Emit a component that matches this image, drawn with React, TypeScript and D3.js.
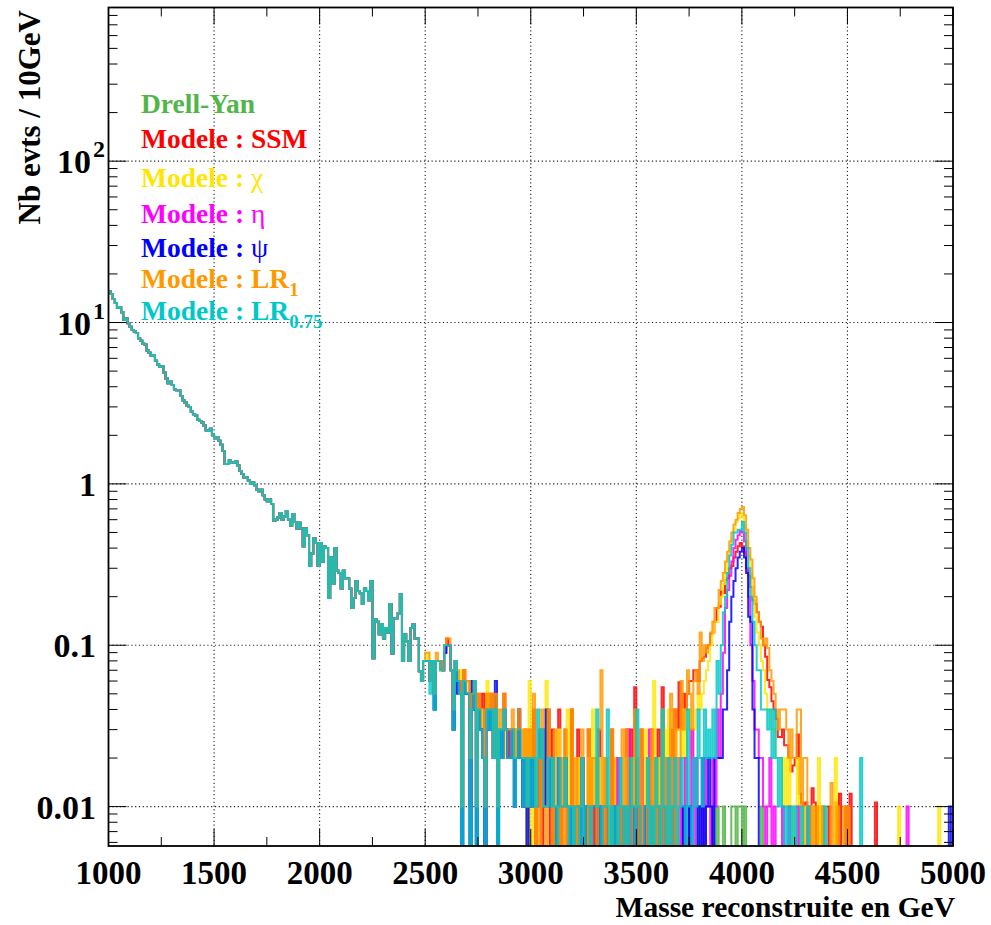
import React from 'react';
import * as d3 from 'd3';

const W = 991;
const H = 925;
const FRAME = { left: 108.5, right: 953, top: 7.5, bottom: 846 };
const X_MIN = 1000;
const X_MAX = 5000;
const BIN = 10;
const Y_MIN = 0.0057;
const Y_MAX = 896;

// Common Drell-Yan dominated part, 1000 -> 2490 GeV (events / 10 GeV)
const lowMass = [
  15.6, 15.0, 14.0, 13.2, 12.3, 12.5, 11.6, 10.4, 10.6, 9.9,
  9.4, 9.0, 8.8, 8.6, 8.0, 7.7, 7.4, 7.3, 6.7, 6.5,
  6.2, 6.3, 5.8, 5.5, 5.3, 5.35, 4.9, 4.5, 4.2, 4.3,
  4.1, 3.85, 3.8, 3.8, 3.5, 3.3, 3.2, 3.05, 3.0, 2.8,
  2.7, 2.65, 2.5, 2.45, 2.4, 2.3, 2.15, 2.13, 2.2, 2.0,
  1.92, 1.95, 1.85, 1.75, 1.6, 1.33, 1.33, 1.4, 1.36, 1.35,
  1.38, 1.3, 1.2, 1.15, 1.09, 1.1, 1.05, 1.0, 1.02, 0.98,
  0.92, 0.9, 0.92, 0.85, 0.8, 0.78, 0.8, 0.75, 0.59, 0.6,
  0.62, 0.66, 0.6, 0.63, 0.68, 0.6, 0.55, 0.65, 0.58, 0.53,
  0.575, 0.53, 0.41, 0.53, 0.48, 0.31, 0.37, 0.46, 0.43, 0.31,
  0.43, 0.33, 0.41, 0.40, 0.196, 0.35, 0.24, 0.40, 0.29, 0.28,
  0.225, 0.29, 0.26, 0.26, 0.225, 0.17, 0.196, 0.25, 0.217, 0.21,
  0.18, 0.225, 0.217, 0.19, 0.25, 0.083, 0.145, 0.14, 0.117, 0.135,
  0.11, 0.128, 0.12, 0.18, 0.089, 0.147, 0.147, 0.158, 0.207, 0.08,
  0.117, 0.106, 0.08, 0.128, 0.135, 0.11, 0.11, 0.069, 0.06, 0.08,
];

// Tails 2500 -> 4990 GeV, in units of 0.01 events / 10 GeV
const dyTail = [
  8, 8, 6, 8, 4, 8, 8, 7, 7, 9,
  10, 10, 7, 3, 8, 6, 6, 0, 6, 5,
  5, 0, 4, 6, 0, 4, 3, 3, 0, 4,
  3, 4, 2, 4, 0, 3, 2, 4, 3, 2,
  2, 3, 1, 2, 3, 2, 1, 2, 0, 2,
  1, 2, 1, 1, 2, 3, 1, 1, 2, 1,
  2, 1, 0, 2, 1, 1, 2, 1, 0, 1,
  0, 1, 1, 0, 2, 0, 1, 1, 0, 1,
  1, 0, 1, 0, 1, 1, 0, 0, 1, 0,
  1, 0, 0, 1, 0, 1, 0, 0, 1, 0,
  0, 1, 0, 0, 1, 0, 0, 1, 0, 0,
  1, 0, 0, 1, 0, 0, 0, 1, 0, 0,
  0, 0, 1, 0, 0, 1, 0, 0, 0, 1,
  0, 0, 1, 0, 0, 0, 1, 0, 1, 0,
  0, 1, 0, 0, 0, 1, 1, 0, 1, 1,
  0, 1, 0, 0, 0, 0, 0, 0, 0, 1,
  0, 0, 0, 0, 0, 0, 0, 0, 0, 0,
  0, 0, 0, 0, 0, 0, 0, 0, 0, 0,
  0, 0, 0, 0, 0, 0, 0, 0, 0, 0,
  0, 0, 0, 0, 0, 0, 0, 0, 0, 0,
  0, 0, 0, 0, 0, 0, 0, 0, 0, 0,
  0, 0, 0, 0, 0, 0, 0, 0, 0, 0,
  0, 0, 0, 0, 0, 0, 0, 0, 0, 0,
  0, 0, 0, 0, 0, 0, 0, 0, 0, 0,
  0, 0, 0, 0, 0, 0, 0, 0, 0, 0,
];

const ssmTail = [
  8, 8, 6, 8, 5, 8, 8, 8, 7, 10,
  11, 10, 7, 4, 8, 6, 6, 1, 7, 6,
  6, 2, 5, 6, 1, 5, 3, 5, 0, 5,
  3, 5, 2, 5, 1, 3, 2, 5, 3, 2,
  3, 3, 2, 3, 4, 2, 1, 3, 1, 3,
  2, 4, 0, 1, 3, 0, 2, 1, 4, 0,
  3, 0, 1, 4, 0, 1, 3, 0, 0, 4,
  1, 0, 3, 0, 2, 0, 0, 3, 0, 2,
  0, 1, 3, 0, 0, 2, 1, 0, 3, 0,
  2, 0, 1, 0, 0, 3, 0, 3, 1, 5.5,
  0, 1, 3, 0, 0, 2, 0, 3, 0, 2,
  3, 0, 5.5, 0, 2, 0, 3, 0, 4, 3,
  5.9, 3, 5, 4, 5, 6, 6, 7, 7, 6,
  8, 8.3, 8.5, 9.6, 10, 11.8, 12, 14, 17, 17.3,
  21.5, 21, 25.4, 26, 30, 31, 35, 38, 41, 43,
  41, 38, 30, 27, 23, 19, 18, 16, 14, 13,
  10, 8.5, 6.1, 5.5, 4.5, 4, 3.5, 2.7, 2.7, 3,
  2.4, 2.4, 2, 1.65, 1.8, 2, 2.8, 1.2, 1.06, 0,
  1.06, 1, 0, 1.3, 1.06, 0, 1, 0, 1, 0,
  0, 1, 0, 0, 1.06, 0, 1.2, 0, 0, 1,
  0, 1.2, 0, 0, 0, 0, 0, 0, 0, 0,
  0, 0, 0, 1.06, 0, 0, 0, 0, 0, 0,
  0, 0, 0, 0, 0, 0, 0, 0, 0, 0,
  0, 0, 0, 0, 0, 0, 0, 0, 0, 0,
  0, 0, 0, 0, 0, 0, 0, 0, 0, 0,
];

const chiTail = [
  8, 9, 7, 8, 5, 8, 8, 8, 7, 10,
  10, 10, 7, 3, 8, 6, 7, 0, 6, 6,
  5, 1, 6, 5, 0, 4, 4, 3, 1, 6,
  3, 4, 2, 5, 0, 3, 3, 4, 2, 2,
  2, 3, 1, 3, 3, 2, 1, 3, 0, 6,
  0, 2, 1, 2, 2, 3, 1, 6, 2, 1,
  2, 1, 0, 3, 1, 1, 2, 4, 0, 1,
  1, 1, 2, 0, 2, 0, 1, 2, 1, 4,
  1, 0, 2, 1, 1, 2, 0, 1, 1, 0,
  2, 0, 1, 1, 0, 2, 1, 0, 2, 1,
  1, 2, 0, 1, 3, 0, 2, 1, 6, 0,
  2, 0, 1, 3, 1, 4, 0, 2, 1, 3,
  3, 2, 4, 1, 3, 4, 2, 3, 4, 5,
  4, 5, 6, 7, 8, 10, 12, 14, 14, 18,
  20, 24, 28, 34, 39, 45, 52, 58, 61, 66,
  62, 55, 44, 36, 28, 20, 15, 12, 10, 8,
  7, 5, 4, 4, 3, 3, 2, 2, 2, 1,
  2, 1, 2, 1, 0, 1, 2, 0, 1, 0,
  1, 0, 0, 1, 0, 0, 2, 0, 1, 0,
  0, 0, 0, 0, 2, 0, 0, 0, 0, 0,
  0, 0, 0, 0, 0, 0, 0, 0, 0, 0,
  0, 0, 0, 0, 0, 0, 0, 0, 0, 0,
  0, 0, 0, 0, 1, 0, 0, 0, 0, 0,
  0, 0, 0, 0, 0, 0, 0, 0, 0, 0,
  0, 0, 0, 1, 0, 0, 0, 0, 0, 0,
];

const etaTail = [
  8, 8, 6, 8, 5, 8, 8, 8, 7, 9,
  10, 10, 7, 3, 8, 6, 6, 0, 6, 5,
  5, 1, 4, 6, 0, 4, 3, 3, 0, 4,
  3, 4, 2, 4, 1, 3, 2, 4, 3, 2,
  2, 3, 1, 2, 3, 2, 1, 2, 1, 2,
  1, 2, 1, 1, 2, 3, 1, 1, 2, 1,
  2, 1, 0, 2, 1, 1, 2, 1, 0, 1,
  0, 1, 1, 0, 2, 0, 1, 1, 0, 1,
  1, 0, 1, 0, 1, 1, 0, 0, 1, 0,
  1, 2, 0, 1, 0, 1, 3, 0, 1, 0,
  0, 1, 2, 0, 1, 0, 3, 1, 0, 1,
  1, 0, 0, 1, 2, 0, 1, 2, 0, 0,
  2, 0, 1, 2, 0, 1, 3, 0, 2, 1,
  1, 0, 2, 1, 1, 0, 2, 1, 4, 2,
  5, 9, 17, 22, 27, 33, 40, 45, 48, 51,
  50, 44, 30, 20, 10, 6, 3, 3, 2, 2,
  1, 0, 1, 2, 0, 1, 0, 0, 0, 1,
  0, 0, 1, 0, 0, 0, 1, 0, 0, 0,
  0, 1, 0, 0, 0, 0, 0, 0, 0, 0,
  0, 0, 0, 0, 0, 0, 0, 0, 0, 0,
  0, 0, 0, 0, 0, 0, 0, 0, 0, 0,
  0, 0, 0, 0, 0, 0, 0, 0, 0, 0,
  0, 0, 0, 0, 0, 0, 0, 0, 1, 0,
  0, 0, 0, 0, 0, 0, 0, 0, 0, 0,
  0, 0, 0, 0, 0, 0, 0, 0, 0, 0,
];

const psiTail = [
  8, 8, 6, 8, 4, 8, 8, 8, 7, 9,
  10, 10, 7, 3, 8, 5, 6, 0, 6, 5,
  5, 0, 6, 4, 0, 4, 3, 2, 0, 4,
  3, 4, 2, 6, 0, 3, 2, 4, 3, 2,
  2, 3, 1, 2, 4, 2, 1, 2, 0, 2,
  1, 2, 1, 1, 2, 3, 1, 4, 2, 1,
  2, 1, 0, 2, 1, 1, 2, 1, 0, 1,
  0, 1, 1, 0, 2, 0, 1, 1, 0, 1,
  1, 0, 1, 0, 1, 1, 0, 0, 1, 0,
  1, 0, 0, 1, 0, 1, 0, 0, 1, 0,
  0, 1, 0, 0, 1, 0, 0, 1, 0, 0,
  1, 0, 0, 1, 0, 0, 0, 1, 0, 0,
  0, 0, 1, 0, 0, 1, 0, 0, 0, 1,
  0, 2, 0, 1, 2, 1, 0, 2, 2, 2,
  2, 4, 4, 7, 14, 20, 25, 30, 35, 38,
  40, 35, 28, 15, 14, 4, 2, 2, 0, 0,
  0, 0, 0, 0, 0, 0, 0, 0, 0, 0,
  0, 0, 0, 0, 0, 0, 0, 0, 0, 0,
  0, 0, 0, 0, 0, 0, 0, 0, 0, 0,
  0, 0, 0, 0, 0, 0, 0, 0, 0, 0,
  0, 0, 0, 0, 0, 0, 0, 0, 0, 0,
  0, 0, 0, 0, 0, 0, 0, 0, 0, 0,
  0, 0, 0, 0, 0, 0, 0, 0, 0, 0,
  0, 0, 0, 0, 0, 0, 0, 0, 0, 0,
  0, 0, 0, 0, 0, 0, 0, 0, 1, 0,
];

const lr1Tail = [
  9, 9, 6, 8, 5, 9, 8, 8, 7, 10,
  11, 11, 7, 4, 8, 7, 6, 1, 7, 6,
  6, 2, 5, 6, 1, 5, 4, 4, 1, 5,
  4, 5, 2, 5, 1, 4, 3, 5, 3, 3,
  3, 4, 2, 3, 4, 3, 2, 3, 1, 3,
  2, 5, 0, 2, 0, 4, 1, 0, 4, 2,
  0, 3, 1, 0, 2, 0, 3, 0, 1, 4,
  0, 2, 0, 1, 3, 0, 0, 3, 0, 2,
  2, 0, 3, 7, 0, 2, 0, 0, 3, 0,
  0, 1, 0, 3, 0, 3, 0, 0, 1, 4,
  2, 0, 3, 0, 0, 2, 0, 3, 0, 2,
  0, 1, 4, 0, 2, 0, 5, 0, 4, 0,
  2, 6, 3, 4, 7, 5, 3, 6, 7, 5,
  12, 8, 10, 9, 10, 12, 14, 17, 17, 22,
  25, 28, 33, 38, 44, 50, 56, 60, 66, 70,
  72, 64, 52, 40, 34, 26, 20, 16, 14, 11,
  10, 11, 9.6, 7, 6, 5, 4, 3, 4, 4,
  4, 3, 2, 3, 2, 2, 4, 4, 1, 2,
  2, 1, 0, 1, 0, 1, 0, 0, 1, 0,
  0, 0, 1.4, 0, 0, 1, 0, 0, 1, 0,
  1, 0, 0, 0, 0, 0, 0, 0, 0, 0,
  0, 0, 0, 0, 0, 0, 0, 0, 0, 0,
  0, 0, 0, 0, 0, 0, 0, 0, 0, 0,
  0, 0, 0, 0, 0, 0, 0, 0, 0, 0,
  0, 0, 0, 0, 0, 0, 0, 0, 0, 0,
];

const lr075Tail = [
  8, 8, 5, 8, 4, 8, 8, 7, 7, 10,
  10, 10, 7, 3, 8, 6, 5, 0, 6, 5,
  5, 0, 4, 6, 0, 4, 3, 2, 0, 4,
  3, 4, 2, 4, 0, 3, 2, 4, 3, 2,
  2, 3, 1, 2, 3, 2, 1, 2, 1, 2,
  1, 2, 1, 4, 2, 3, 1, 1, 2, 1,
  2, 1, 0, 2, 1, 1, 2, 1, 0, 1,
  0, 1, 1, 0, 2, 0, 1, 1, 0, 1,
  1, 4, 1, 0, 1, 1, 4, 0, 1, 0,
  1, 0, 2, 1, 0, 1, 0, 2, 1, 0,
  4, 1, 0, 0, 1, 2, 0, 1, 0, 2,
  1, 0, 4, 1, 0, 2, 0, 1, 2, 0,
  1, 2, 1, 0, 4, 1, 0, 2, 1, 4,
  2, 1, 4, 2, 3, 2, 4, 2, 8, 5,
  10, 16, 20, 28, 36, 42, 50, 50, 52, 52,
  58, 50, 40, 30, 20, 14, 10, 7, 7, 4,
  4, 4, 3, 4, 2, 4, 2, 1, 2, 1,
  0, 1, 0, 1, 0, 1, 0, 0, 1, 0,
  0, 1, 0, 0, 0, 0, 0, 0, 0, 1,
  0, 0, 0, 0, 0, 0, 0, 0, 0, 0,
  0, 0, 0, 0, 0, 0, 2, 0, 0, 0,
  0, 0, 0, 0, 0, 0, 0, 0, 0, 0,
  0, 0, 0, 0, 0, 0, 0, 0, 0, 0,
  0, 0, 0, 0, 0, 0, 0, 0, 0, 0,
  0, 0, 0, 0, 0, 0, 0, 0, 0, 0,
];

const seriesNames = ['Drell-Yan', 'SSM', 'chi', 'eta', 'psi', 'LR1', 'LR0.75'];
const seriesColors = ['#4fb443', '#ff0000', '#ffe600', '#ff00ff', '#0000ff', '#ff9900', '#00c8c8'];
const seriesTails = [dyTail, ssmTail, chiTail, etaTail, psiTail, lr1Tail, lr075Tail];

const xTickValues = [1000, 1500, 2000, 2500, 3000, 3500, 4000, 4500, 5000];
const yMajorTicks = [0.01, 0.1, 1, 10, 100];

const FONT = '"Liberation Serif", "Times New Roman", serif';

export default function App() {
  const x = d3.scaleLinear().domain([X_MIN, X_MAX]).range([FRAME.left, FRAME.right]);
  const y = d3.scaleLog().domain([Y_MIN, Y_MAX]).range([FRAME.bottom, FRAME.top]);

  const yClamp = (v: number) => (v > 0 ? Math.min(y(v), FRAME.bottom + 3) : FRAME.bottom + 3);

  const line = d3
    .line<[number, number]>()
    .x((d) => x(d[0]))
    .y((d) => yClamp(d[1]))
    .curve(d3.curveStepAfter);

  const paths = seriesTails.map((tail, si) => {
    const vals = lowMass.concat(tail.map((c) => c * 0.01));
    const pts: [number, number][] = vals.map((v, i) => [X_MIN + i * BIN, v]);
    pts.push([X_MAX, vals[vals.length - 1]]);
    return { d: line(pts) || '', color: seriesColors[si], name: seriesNames[si] };
  });

  const yMinor: number[] = [];
  for (let e = -3; e <= 2; e++) {
    for (let k = 2; k <= 9; k++) {
      const v = k * Math.pow(10, e);
      if (v > Y_MIN && v < Y_MAX) yMinor.push(v);
    }
  }
  const xMinor = d3.range(1250, 5000, 500);

  const gridStyle = { stroke: '#222', strokeWidth: 1.1, strokeDasharray: '1.2 2.6' };

  const legend = [
    { main: 'Drell-Yan', greek: '', sub: '', color: '#52b548', y: 113 },
    { main: 'Modele : SSM', greek: '', sub: '', color: '#ff0000', y: 148 },
    { main: 'Modele : ', greek: 'χ', sub: '', color: '#ffe600', y: 187 },
    { main: 'Modele : ', greek: 'η', sub: '', color: '#ff00ff', y: 223 },
    { main: 'Modele : ', greek: 'ψ', sub: '', color: '#0000ff', y: 257 },
    { main: 'Modele : LR', greek: '', sub: '1', color: '#ff9900', y: 288 },
    { main: 'Modele : LR', greek: '', sub: '0.75', color: '#00c8c8', y: 320 },
  ];

  return (
    <svg width={W} height={H} style={{ position: 'absolute', left: 0, top: 0, background: '#fff' }} fontFamily={FONT}>
      <rect x={0} y={0} width={W} height={H} fill="#fff" />
      <defs>
        <clipPath id="frameClip">
          <rect x={FRAME.left} y={FRAME.top} width={FRAME.right - FRAME.left} height={FRAME.bottom - FRAME.top} />
        </clipPath>
      </defs>

      {xTickValues.slice(1, -1).map((t) => (
        <line key={'gx' + t} x1={x(t)} x2={x(t)} y1={FRAME.top} y2={FRAME.bottom} {...gridStyle} />
      ))}
      {yMajorTicks.map((t) => (
        <line key={'gy' + t} x1={FRAME.left} x2={FRAME.right} y1={y(t)} y2={y(t)} {...gridStyle} />
      ))}

      <g clipPath="url(#frameClip)">
        {paths.map((p) => (
          <path key={p.name} d={p.d} fill="none" stroke={p.color} strokeWidth={2} strokeOpacity={0.85} />
        ))}
      </g>

      <rect
        x={FRAME.left}
        y={FRAME.top}
        width={FRAME.right - FRAME.left}
        height={FRAME.bottom - FRAME.top}
        fill="none"
        stroke="#000"
        strokeWidth={1.8}
      />

      {xTickValues.map((t) => (
        <g key={'xt' + t}>
          <line x1={x(t)} x2={x(t)} y1={FRAME.bottom} y2={FRAME.bottom - 17} stroke="#000" strokeWidth={1} />
          <line x1={x(t)} x2={x(t)} y1={FRAME.top} y2={FRAME.top + 17} stroke="#000" strokeWidth={1} />
        </g>
      ))}
      {xMinor.map((t) => (
        <g key={'xm' + t}>
          <line x1={x(t)} x2={x(t)} y1={FRAME.bottom} y2={FRAME.bottom - 9} stroke="#000" strokeWidth={1} />
          <line x1={x(t)} x2={x(t)} y1={FRAME.top} y2={FRAME.top + 9} stroke="#000" strokeWidth={1} />
        </g>
      ))}
      {yMajorTicks.map((t) => (
        <g key={'yt' + t}>
          <line x1={FRAME.left} x2={FRAME.left + 18} y1={y(t)} y2={y(t)} stroke="#000" strokeWidth={1} />
          <line x1={FRAME.right} x2={FRAME.right - 18} y1={y(t)} y2={y(t)} stroke="#000" strokeWidth={1} />
        </g>
      ))}
      {yMinor.map((t) => (
        <g key={'ym' + t}>
          <line x1={FRAME.left} x2={FRAME.left + 9} y1={y(t)} y2={y(t)} stroke="#000" strokeWidth={1} />
          <line x1={FRAME.right} x2={FRAME.right - 9} y1={y(t)} y2={y(t)} stroke="#000" strokeWidth={1} />
        </g>
      ))}

      {xTickValues.map((t) => (
        <text key={'xl' + t} x={x(t)} y={884} textAnchor="middle" fontSize={33} fontWeight="bold" fill="#000">
          {t}
        </text>
      ))}
      <text x={FRAME.right + 2} y={917} textAnchor="end" fontSize={29.5} fontWeight="bold" fill="#000">
        Masse reconstruite en GeV
      </text>

      {yMajorTicks.map((t) => {
        const yy = y(t) + 12;
        if (t >= 10) {
          const exp = Math.round(Math.log10(t));
          return (
            <g key={'yl' + t}>
              <text x={91} y={yy} textAnchor="end" fontSize={34} fontWeight="bold" fill="#000">
                10
              </text>
              <text x={93} y={yy - 16} textAnchor="start" fontSize={24} fontWeight="bold" fill="#000">
                {exp}
              </text>
            </g>
          );
        }
        return (
          <text key={'yl' + t} x={96} y={yy} textAnchor="end" fontSize={34} fontWeight="bold" fill="#000">
            {t}
          </text>
        );
      })}
      <text
        transform={`translate(40, 10) rotate(-90)`}
        textAnchor="end"
        fontSize={31}
        fontWeight="bold"
        fill="#000"
      >
        Nb evts / 10GeV
      </text>

      {legend.map((l) => (
        <text key={l.main + l.greek + l.sub} x={141} y={l.y} fontSize={27.5} fontWeight="bold" fill={l.color}>
          {l.main}
          {l.greek && <tspan fontWeight="normal">{l.greek}</tspan>}
          {l.sub && (
            <tspan fontSize={19} dy={8}>
              {l.sub}
            </tspan>
          )}
        </text>
      ))}
    </svg>
  );
}
